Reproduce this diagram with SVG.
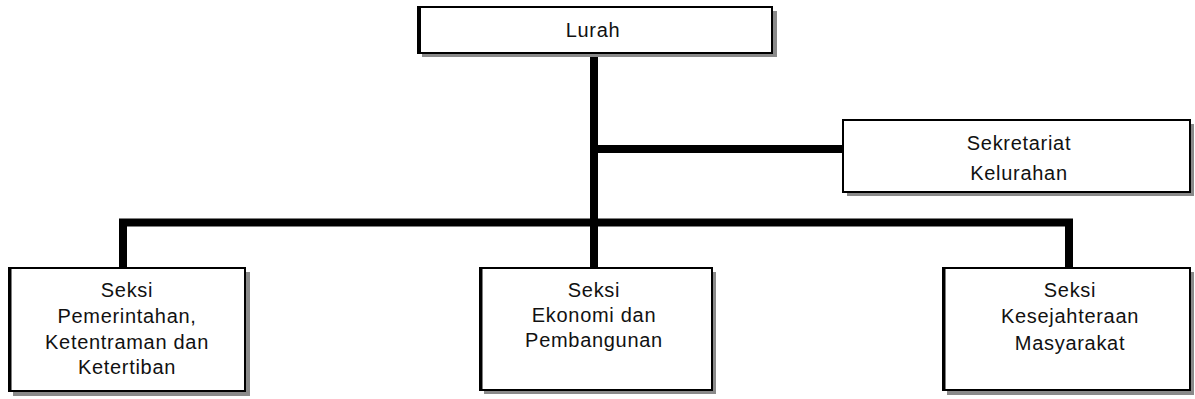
<svg xmlns="http://www.w3.org/2000/svg" width="1195" height="399" viewBox="0 0 1195 399">
  <style>
    .box { fill: #ffffff; stroke: #000000; stroke-width: 2; }
    .shadow { fill: #8a8a8a; }
    .edge { fill: none; stroke: #000000; stroke-width: 8; stroke-linejoin: miter; stroke-linecap: butt; }
    .lbl { font-family: "Liberation Sans", Arial, sans-serif; font-size: 20px; letter-spacing: 0.7px; fill: #111111; text-anchor: middle; }
  </style>
  <rect width="1195" height="399" fill="#ffffff"/>
  <g id="connectors">
    <path class="edge" d="M594,53 V268"/>
    <path class="edge" d="M594,149 H844"/>
    <path class="edge" d="M123,268 V222.5 H1069 V268"/>
  </g>
  <g id="lurah">
    <rect class="shadow" x="422" y="11" width="355" height="46"/>
    <rect class="box" x="418" y="7" width="354" height="46"/>
    <line x1="419" y1="7" x2="419" y2="53" stroke="#000" stroke-width="4"/>
    <text class="lbl" x="593" y="37">Lurah</text>
  </g>
  <g id="sekretariat">
    <rect class="shadow" x="847" y="124" width="347" height="72"/>
    <rect class="box" x="843" y="120" width="347" height="72"/>
    <text class="lbl" x="1019" y="150">Sekretariat</text>
    <text class="lbl" x="1019" y="180">Kelurahan</text>
  </g>
  <g id="seksi-pemerintahan">
    <rect class="shadow" x="13" y="272" width="237" height="124"/>
    <rect class="box" x="9" y="268" width="236" height="123"/>
    <line x1="10" y1="268" x2="10" y2="391" stroke="#000" stroke-width="3"/>
    <text class="lbl" x="127" y="297">Seksi</text>
    <text class="lbl" x="127" y="323">Pemerintahan,</text>
    <text class="lbl" x="127" y="349">Ketentraman dan</text>
    <text class="lbl" x="127" y="374">Ketertiban</text>
  </g>
  <g id="seksi-ekonomi">
    <rect class="shadow" x="484" y="272" width="232" height="122"/>
    <rect class="box" x="480" y="268" width="232" height="122"/>
    <line x1="481" y1="268" x2="481" y2="390" stroke="#000" stroke-width="3"/>
    <text class="lbl" x="594" y="297">Seksi</text>
    <text class="lbl" x="594" y="322">Ekonomi dan</text>
    <text class="lbl" x="594" y="347">Pembangunan</text>
  </g>
  <g id="seksi-kesejahteraan">
    <rect class="shadow" x="947" y="272" width="247" height="123"/>
    <rect class="box" x="943" y="268" width="247" height="122"/>
    <line x1="944" y1="268" x2="944" y2="390" stroke="#000" stroke-width="3"/>
    <text class="lbl" x="1070" y="297">Seksi</text>
    <text class="lbl" x="1070" y="323">Kesejahteraan</text>
    <text class="lbl" x="1070" y="350">Masyarakat</text>
  </g>
</svg>
